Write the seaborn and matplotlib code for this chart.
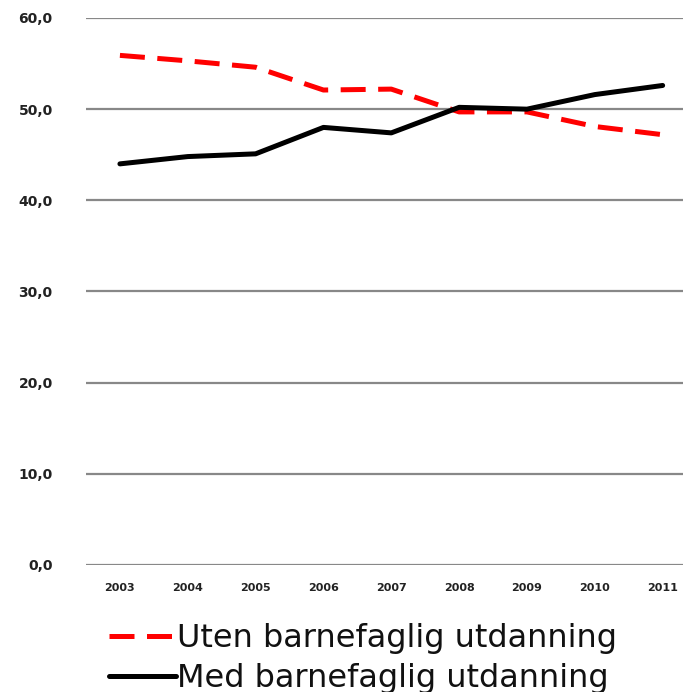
import matplotlib
matplotlib.use("Agg")
import matplotlib.pyplot as plt
import pandas as pd
import seaborn as sns

years = ["2003", "2004", "2005", "2006", "2007", "2008", "2009", "2010", "2011"]
uten = [55.9, 55.3, 54.6, 52.1, 52.2, 49.7, 49.7, 48.1, 47.2]
med = [44.0, 44.8, 45.1, 48.0, 47.4, 50.2, 50.0, 51.6, 52.6]
series_names = ["Uten barnefaglig utdanning", "Med barnefaglig utdanning"]
y_ticks = [0, 10, 20, 30, 40, 50, 60]

df = pd.DataFrame({
    "year": years * 2,
    "pos": list(range(len(years))) * 2,
    "value": uten + med,
    "serie": [series_names[0]] * len(years) + [series_names[1]] * len(years),
})

sns.set_style("white")
fig = plt.figure(figsize=(6.83, 6.92), dpi=100)
ax = fig.add_axes([86 / 683, (692 - 565) / 692, (683 - 86) / 683, (565 - 18) / 692])

ax = sns.lineplot(data=df, x="pos", y="value", hue="serie", style="serie",
                  palette={series_names[0]: "#ff0000", series_names[1]: "#000000"},
                  dashes={series_names[0]: (5, 2.5), series_names[1]: ""},
                  linewidth=3.6, ax=ax, legend=True)

ax.set_xlim(-0.5, 8.3)
ax.set_ylim(0, 60)
ax.set_yticks(y_ticks)
ax.set_yticklabels([f"{t},0" for t in y_ticks], fontsize=10, fontweight="bold", color="#222222")
ax.set_xticks(range(len(years)))
ax.set_xticklabels(years, fontsize=8, fontweight="bold", color="#222222")
ax.tick_params(axis="both", length=0)
ax.tick_params(axis="y", pad=24)
ax.tick_params(axis="x", pad=13)
ax.grid(axis="y", color="#888888", linewidth=1.6)
ax.set_axisbelow(True)
for s in ax.spines.values():
    s.set_visible(False)
ax.set_xlabel("")
ax.set_ylabel("")

handles, labels = ax.get_legend_handles_labels()
ax.legend(handles, labels, loc="upper left", bbox_to_anchor=(96 / 683, 1 - 610 / 692),
          bbox_transform=fig.transFigure, frameon=False, fontsize=23,
          handlelength=2.1, handletextpad=0.05, labelspacing=0.3, borderaxespad=0,
          labelcolor="#111111")

fig.savefig("out.png", dpi=100)
